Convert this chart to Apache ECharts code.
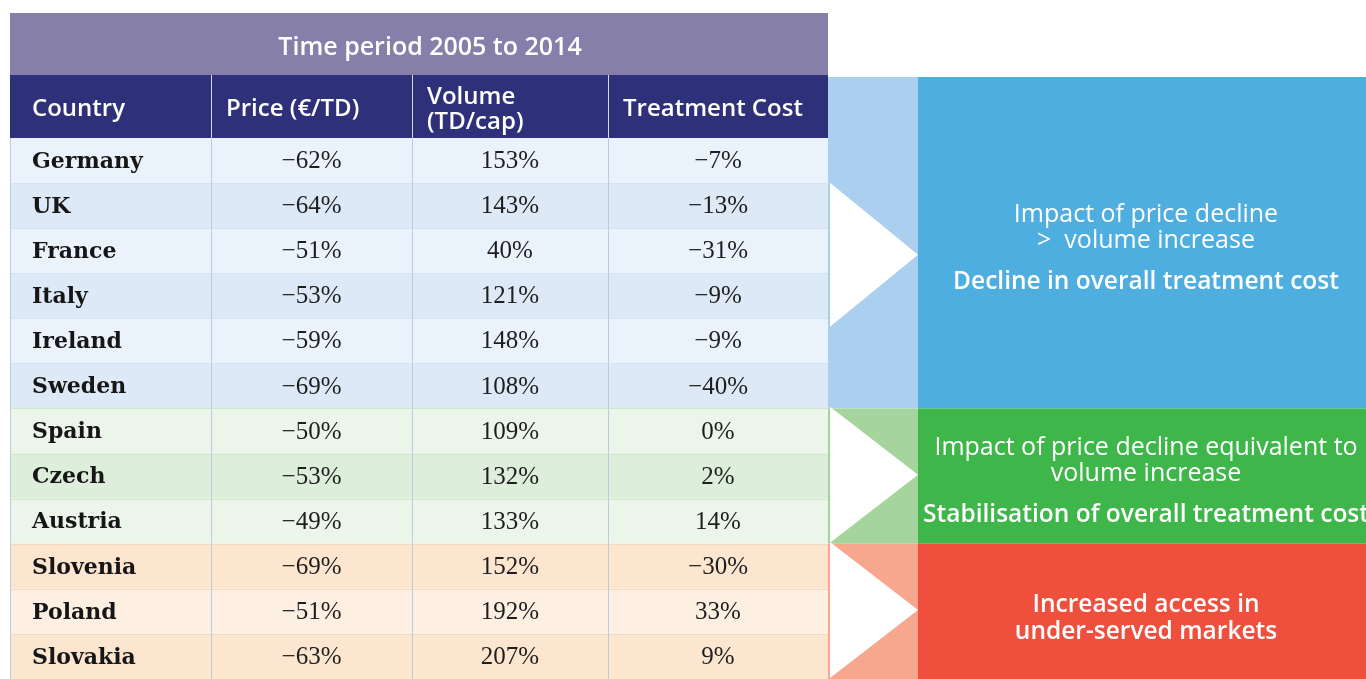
<!DOCTYPE html>
<html><head><meta charset="utf-8">
<script src="https://cdn.jsdelivr.net/npm/echarts@6/dist/echarts.min.js"></script>
<style>html,body{margin:0;padding:0;background:#fff;overflow:hidden}#c{width:1366px;height:679px}</style>
</head><body><div id="c"></div>
<script>
// ---------- data ----------
const title = 'Time period 2005 to 2014';
const columns = ['Country', 'Price (€/TD)', 'Volume\n(TD/cap)', 'Treatment Cost'];
const countries = ['Germany', 'UK', 'France', 'Italy', 'Ireland', 'Sweden', 'Spain', 'Czech', 'Austria', 'Slovenia', 'Poland', 'Slovakia'];
const priceChange = [-62, -64, -51, -53, -59, -69, -50, -53, -49, -69, -51, -63];
const volumeChange = [153, 143, 40, 121, 148, 108, 109, 132, 133, 152, 192, 207];
const costChange = [-7, -13, -31, -9, -9, -40, 0, 2, 14, -30, 33, 9];
const groupOfRow = [0, 0, 0, 0, 0, 0, 1, 1, 1, 2, 2, 2];
const groupLead = ['Impact of price decline\n>  volume increase', 'Impact of price decline equivalent to\nvolume increase', ''];
const groupConclusion = ['Decline in overall treatment cost', 'Stabilisation of overall treatment cost', 'Increased access in\nunder-served markets'];

// ---------- layout / style ----------
const GRID_LEFT = 10, GRID_TOP = 138, ROW_H = 45.4;
const colEdges = [0, 201, 402, 598, 818];
const arrowColEnd = 908, boxEnd = 1356;
const HEADER_H = 63, BAND_H = 62;
const rowFills = [['#eaf2fc', '#dde9f6'], ['#ebf5e9', '#ddeedb'], ['#fde6d0', '#feefe3']];
const rowLines = ['#d3e3f4', '#cfe7cb', '#f9d8c1'];
const panelLight = ['#aacfef', '#a6d49d', '#f6a78d'];
const panelBox = ['#4eaee0', '#3eb64a', '#ef4f3d'];
const triShift = [12, -1.5, -1.5];
const triHalf = [72, 68, 68];
const SANS = '"Open Sans", Lato, sans-serif';

const groupRanges = [];
groupOfRow.forEach((g, i) => {
  if (!groupRanges[g]) groupRanges[g] = [i, i];
  groupRanges[g][1] = i;
});
const fmt = v => (v < 0 ? '\u2212' + Math.abs(v) : String(v)) + '%';

const rowData = countries.map((c, i) => [c, priceChange[i], volumeChange[i], costChange[i]]);
const panelData = groupRanges.map((r, g) => [g, r[0], r[1]]);

function renderRow(params, api) {
  const i = params.dataIndex;
  const band = api.size([0, 1])[1];
  const cy = api.coord([0, i])[1];
  const top = cy - band / 2;
  const x = k => api.coord([colEdges[k], i])[0];
  const g = groupOfRow[i];
  const pos = i - groupRanges[g][0];
  const ch = [];
  ch.push({ type: 'rect', shape: { x: x(0), y: top, width: x(4) - x(0), height: band }, style: { fill: rowFills[g][pos % 2] } });
  if (i > 0) ch.push({ type: 'line', shape: { x1: x(0), y1: Math.round(top) + 0.5, x2: x(4), y2: Math.round(top) + 0.5 }, style: { stroke: rowLines[g], lineWidth: 1 } });
  for (let k = 0; k < 4; k++) {
    ch.push({ type: 'line', shape: { x1: Math.round(x(k)) + 0.5, y1: top, x2: Math.round(x(k)) + 0.5, y2: top + band }, style: { stroke: '#bccbdc', lineWidth: 1 } });
  }
  ch.push({ type: 'text', x: x(0) + 22, y: cy + 1.5, style: { text: countries[i], font: 'bold 22px "DejaVu Serif", serif', fill: '#161616', verticalAlign: 'middle', align: 'left' } });
  for (let k = 1; k < 4; k++) {
    ch.push({ type: 'text', x: (x(k) + x(k + 1)) / 2, y: cy + 1, style: { text: fmt(api.value(k)), font: '25px "Liberation Serif", serif', fill: '#1e1e1e', verticalAlign: 'middle', align: 'center' } });
  }
  if (i === 0) {
    const hTop = top - HEADER_H;
    const bTop = hTop - BAND_H;
    ch.push({ type: 'rect', shape: { x: x(0), y: bTop, width: x(4) - x(0), height: BAND_H }, style: { fill: '#857faa' } });
    ch.push({ type: 'text', x: (x(0) + x(4)) / 2 + 11, y: bTop + BAND_H / 2 + 4, style: { text: title, font: '600 25px ' + SANS, fill: '#ffffff', align: 'center', verticalAlign: 'middle' } });
    ch.push({ type: 'rect', shape: { x: x(0), y: hTop, width: x(4) - x(0), height: HEADER_H }, style: { fill: '#2e317a' } });
    for (let k = 1; k < 4; k++) {
      ch.push({ type: 'line', shape: { x1: Math.round(x(k)) + 0.5, y1: hTop, x2: Math.round(x(k)) + 0.5, y2: top }, style: { stroke: '#d6d7e8', lineWidth: 1 } });
    }
    columns.forEach((name, k) => {
      ch.push({ type: 'text', x: x(k) + (k === 0 ? 22 : 15), y: hTop + HEADER_H / 2 + 3, style: { text: name, font: '600 24px ' + SANS, fill: '#ffffff', align: 'left', verticalAlign: 'middle', lineHeight: 25 } });
    });
  }
  return { type: 'group', children: ch };
}

function renderPanel(params, api) {
  const g = api.value(0), s = api.value(1), e = api.value(2);
  const band = api.size([0, 1])[1];
  let top = api.coord([0, s])[1] - band / 2;
  if (g === 0) top = top - HEADER_H + 2;
  const bottom = api.coord([0, e])[1] + band / 2;
  const xa = api.coord([colEdges[4], s])[0];
  const xb = api.coord([arrowColEnd, s])[0];
  const xc = api.coord([boxEnd, s])[0];
  const cy = (top + bottom) / 2;
  const ty = cy + triShift[g];
  const cx = (xb + xc) / 2 + 4;
  const ch = [
    { type: 'rect', shape: { x: xa, y: top, width: xb - xa, height: bottom - top }, style: { fill: panelLight[g] } },
    { type: 'rect', shape: { x: xb, y: top, width: xc - xb, height: bottom - top }, style: { fill: panelBox[g] } },
    { type: 'polygon', shape: { points: [[xa + 2, ty - triHalf[g]], [xb, ty], [xa + 2, ty + triHalf[g]]] }, style: { fill: '#ffffff' } }
  ];
  if (groupLead[g]) {
    ch.push({ type: 'text', x: cx, y: cy + 11, style: { text: groupLead[g], font: '25px ' + SANS, fill: '#ffffff', align: 'center', verticalAlign: 'bottom', lineHeight: 26 } });
    ch.push({ type: 'text', x: cx, y: cy + 39, style: { text: groupConclusion[g], font: '600 24.5px ' + SANS, fill: '#ffffff', align: 'center', verticalAlign: 'middle', lineHeight: 27 } });
  } else {
    ch.push({ type: 'text', x: cx, y: cy + 7, style: { text: groupConclusion[g], font: '600 24.5px ' + SANS, fill: '#ffffff', align: 'center', verticalAlign: 'middle', lineHeight: 27 } });
  }
  return { type: 'group', children: ch };
}

const chart = echarts.init(document.getElementById('c'), null, { renderer: 'canvas' });
chart.setOption({
  animation: false,
  backgroundColor: '#ffffff',
  grid: { left: GRID_LEFT, top: GRID_TOP, width: boxEnd, height: ROW_H * countries.length, containLabel: false },
  xAxis: { type: 'value', min: 0, max: boxEnd, show: false },
  yAxis: { type: 'category', data: countries, inverse: true, show: false },
  series: [
    { type: 'custom', name: 'rows', renderItem: renderRow, data: rowData, encode: { y: 0 }, clip: false, silent: true },
    { type: 'custom', name: 'panels', renderItem: renderPanel, data: panelData, encode: { y: 1 }, clip: false, silent: true }
  ]
});
</script>
</body></html>
